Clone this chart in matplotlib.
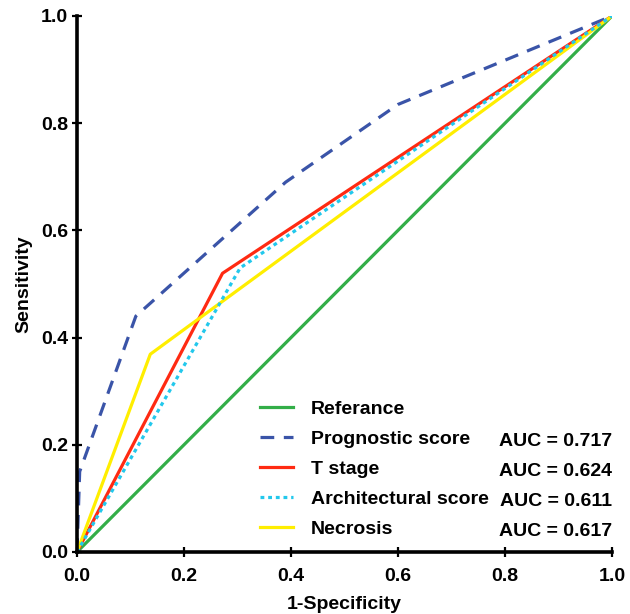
import matplotlib
matplotlib.use("Agg")
import matplotlib.pyplot as plt

plt.rcParams['font.family'] = ['Liberation Sans', 'DejaVu Sans']
plt.rcParams['font.weight'] = 'bold'

# Data
ref_x = [0.0, 1.0]
ref_y = [0.0, 1.0]
prog_x = [0.0, 0.005, 0.11, 0.39, 0.60, 1.0]
prog_y = [0.0, 0.15, 0.44, 0.69, 0.835, 1.0]
tstage_x = [0.0, 0.272, 1.0]
tstage_y = [0.0, 0.52, 1.0]
arch_x = [0.0, 0.305, 1.0]
arch_y = [0.0, 0.53, 1.0]
necro_x = [0.0, 0.137, 1.0]
necro_y = [0.0, 0.369, 1.0]

labels = ["Referance", "Prognostic score", "T stage", "Architectural score", "Necrosis"]
auc_labels = ["AUC = 0.717", "AUC = 0.624", "AUC = 0.611", "AUC = 0.617"]
ticks = [0.0, 0.2, 0.4, 0.6, 0.8, 1.0]

W, H = 630, 614
x0, x1, y0, y1 = 77, 612, 552, 16
fig = plt.figure(figsize=(W / 100, H / 100), dpi=100)
ax = fig.add_axes([x0 / W, 1 - y0 / H, (x1 - x0) / W, (y0 - y1) / H])

lw = 2.3
l0, = ax.plot(ref_x, ref_y, color='#33AE48', lw=lw, label=labels[0], zorder=2)
l1, = ax.plot(prog_x, prog_y, color='#3A54A8', lw=lw, dashes=(4.3, 3.0), label=labels[1], zorder=3)
l2, = ax.plot(tstage_x, tstage_y, color='#FF2A12', lw=lw, label=labels[2], zorder=3)
l3, = ax.plot(arch_x, arch_y, color='#22C8EC', lw=lw, dashes=(1.2, 1.2), label=labels[3], zorder=4)
l4, = ax.plot(necro_x, necro_y, color='#FFEE00', lw=lw, label=labels[4], zorder=3)

ax.set_xlim(0, 1)
ax.set_ylim(0, 1)
ax.set_xticks(ticks)
ax.set_yticks(ticks)
ax.set_xticklabels([f"{t:.1f}" for t in ticks])
ax.set_yticklabels([f"{t:.1f}" for t in ticks])
for s in ['top', 'right']:
    ax.spines[s].set_visible(False)
for s in ['left', 'bottom']:
    ax.spines[s].set_linewidth(2.6)
    ax.spines[s].set_zorder(5)
ax.tick_params(axis='both', direction='inout', length=7, width=1.6, labelsize=14)
ax.tick_params(axis='x', pad=8)
ax.tick_params(axis='y', pad=3)
for lab in ax.get_xticklabels() + ax.get_yticklabels():
    lab.set_fontweight('bold')

ax.set_xlabel("1-Specificity", fontsize=14, fontweight='bold', labelpad=8)
ax.set_ylabel("Sensitivity", fontsize=14, fontweight='bold', labelpad=6)

leg = ax.legend(handles=[l0, l1, l2, l3, l4], loc='upper left',
                bbox_to_anchor=(0.342, 0.283), frameon=False,
                prop={'size': 14, 'weight': 'bold'},
                handlelength=1.7, handletextpad=0.93, labelspacing=0.64,
                borderaxespad=0, borderpad=0)

row_y = [(y0 - y) / (y0 - y1) for y in [442, 472, 502, 531]]
for yy, txt in zip(row_y, auc_labels):
    ax.text(1.0, yy, txt, transform=ax.transAxes, ha='right', va='center',
            fontsize=14, fontweight='bold')

fig.savefig("out.png", dpi=100)
